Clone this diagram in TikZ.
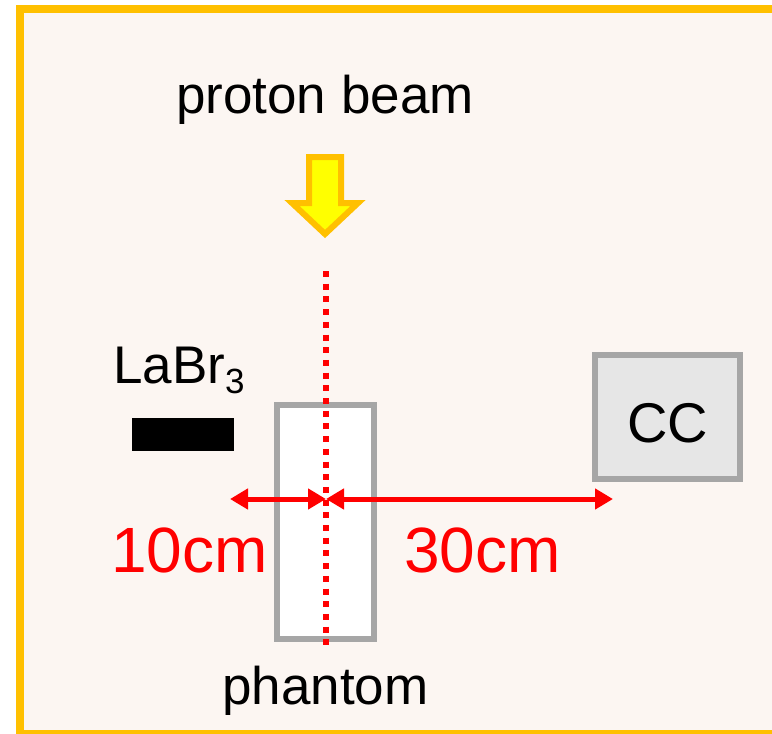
\documentclass[tikz,border=0pt]{standalone}
\usepackage{fontspec}
\setmainfont{Liberation Sans}
\usetikzlibrary{arrows.meta}
\definecolor{bgpeach}{RGB}{252,246,242}
\definecolor{frameyel}{RGB}{255,192,0}
\definecolor{boxgray}{RGB}{166,166,166}
\definecolor{ccfill}{RGB}{230,230,230}
\definecolor{beamyel}{RGB}{255,255,0}
\tikzset{
  txt/.style={inner sep=0pt, anchor=base west},
  grayframe/.style={draw=boxgray, line width=6pt, outer sep=0pt, inner sep=0pt, anchor=north west},
  dimarrow/.style={draw=red, line width=5pt, {Triangle[length=18pt,width=20pt]}-{Triangle[length=18pt,width=20pt]}},
  beamline/.style={draw=red, line width=6pt, dash pattern=on 6pt off 6.7pt},
}
\begin{document}
\begin{tikzpicture}[x=1pt,y=-1pt]
\useasboundingbox (0,0) rectangle (772,734);
\fill[white] (0,0) rectangle (772,734);
% frame
\draw[frameyel, line width=8pt, fill=bgpeach] (20,9) rectangle (776,734);
% proton beam label
\node[inner sep=0pt, anchor=base] (beamlbl) at (325,113) {\fontsize{53}{60}\selectfont proton beam};
% yellow arrow
\draw[frameyel, line width=6pt, fill=beamyel, line join=miter]
  (309,157) -- (341,157) -- (341,203) -- (358,203) -- (325,234) -- (292,203) -- (309,203) -- cycle;
% phantom
\node[grayframe, fill=white, minimum width=97pt, minimum height=234pt] (phantom) at (277,405) {};
% CC
\node[grayframe, fill=ccfill, minimum width=145pt, minimum height=124pt] (cc) at (595,355) {};
\node[txt, anchor=base] (cclbl) at (668,442) {\fontsize{56}{60}\selectfont CC};
% LaBr3 detector
\node[fill=black, minimum width=102pt, minimum height=33pt, inner sep=0pt, outer sep=0pt, anchor=north west] (labr) at (132,418) {};
\node[txt] (labrlbl) at (113,383) {\fontsize{53}{60}\selectfont LaBr\raisebox{-10pt}{\fontsize{35}{40}\selectfont 3}};
% beam line
\coordinate (btop) at (325.5,271);
\coordinate (bbot) at (325.5,648);
\draw[beamline] (btop) -- (bbot);
% dimension arrows
\coordinate (dl) at (230,499);
\coordinate (dm) at (326,499);
\coordinate (dr) at (613,499);
\draw[dimarrow] (dl) -- (dm);
\draw[dimarrow] (dm) -- (dr);
% labels
\node[txt, text=red] (d10) at (111,572) {\fontsize{64}{70}\selectfont 10cm};
\node[txt, text=red] (d30) at (404,572) {\fontsize{64}{70}\selectfont 30cm};
\node[txt] (phlbl) at (222,704) {\fontsize{53}{60}\selectfont phantom};
\end{tikzpicture}
\end{document}
